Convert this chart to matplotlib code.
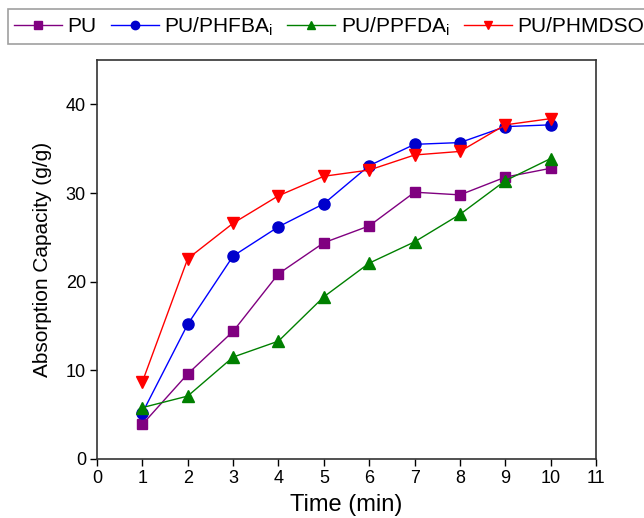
import matplotlib.pyplot as plt

plt.rcParams['font.family'] = ['Liberation Sans', 'DejaVu Sans']
plt.rcParams['mathtext.fontset'] = 'custom'
plt.rcParams['mathtext.rm'] = 'Liberation Sans'

# Data
time_min = [1, 2, 3, 4, 5, 6, 7, 8, 9, 10]
pu = [3.9, 9.6, 14.4, 20.9, 24.4, 26.3, 30.1, 29.8, 31.8, 32.8]
pu_phfba = [5.2, 15.2, 22.9, 26.2, 28.8, 33.1, 35.5, 35.7, 37.5, 37.7]
pu_ppfda = [5.8, 7.1, 11.5, 13.3, 18.3, 22.1, 24.5, 27.6, 31.4, 33.9]
pu_phmdso = [8.7, 22.6, 26.6, 29.7, 31.9, 32.6, 34.3, 34.7, 37.7, 38.4]

labels = ['PU', r'PU/PHFBA$_\mathregular{i}$', r'PU/PPFDA$_\mathregular{i}$', 'PU/PHMDSO']

fig = plt.figure(figsize=(6.44, 5.18), dpi=100)
ax = fig.add_axes([0.1506, 0.1139, 0.775, 0.770])

ax.plot(time_min, pu, color='#800080', marker='s', ms=7, lw=1, label=labels[0])
ax.plot(time_min, pu_phfba, color='#0000ff', marker='o', ms=8, mfc='#0000cc',
        mec='#0000cc', lw=1, label=labels[1])
ax.plot(time_min, pu_ppfda, color='#008000', marker='^', ms=8, lw=1, label=labels[2])
ax.plot(time_min, pu_phmdso, color='#ff0000', marker='v', ms=8, lw=1, label=labels[3])

ax.set_xlim(0, 11)
ax.set_ylim(0, 45)
ax.set_xticks(range(0, 12))
ax.set_yticks([0, 10, 20, 30, 40])
ax.tick_params(direction='out', length=5, width=1, labelsize=13, pad=3)
for s in ax.spines.values():
    s.set_linewidth(1.2)
    s.set_color('#333333')

ax.set_xlabel('Time (min)', fontsize=17, labelpad=5)
ax.set_ylabel('Absorption Capacity (g/g)', fontsize=15, labelpad=10)

leg = fig.legend(loc='upper left', bbox_to_anchor=(0.012, 0.983), ncol=4,
                 fontsize=15, frameon=True, fancybox=False, handlelength=2.3,
                 columnspacing=0.7, handletextpad=0.25, borderpad=0.3,
                 borderaxespad=0, markerscale=0.75)
leg.get_frame().set_edgecolor('#888888')
leg.get_frame().set_linewidth(1.2)

fig.savefig('out.png', dpi=100)
